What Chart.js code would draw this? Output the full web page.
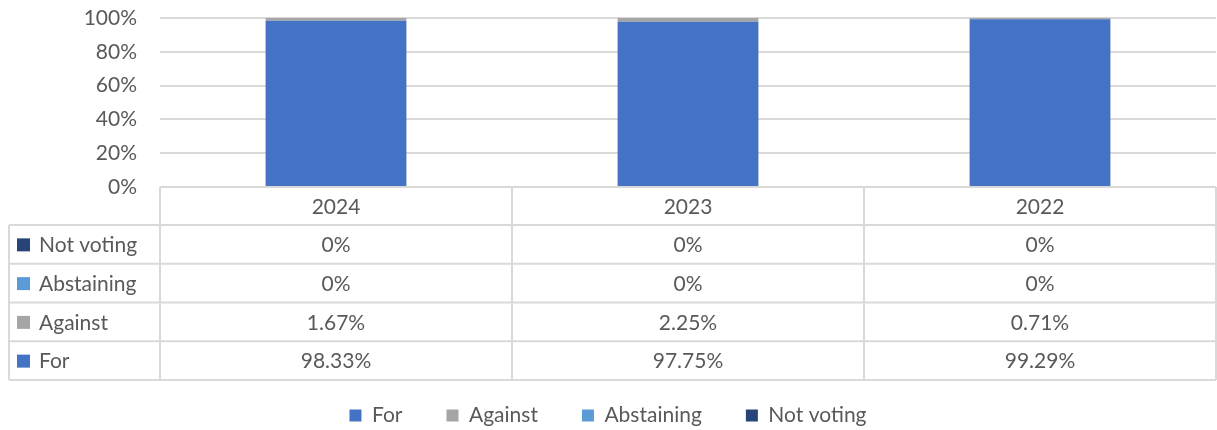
<!DOCTYPE html>
<html>
<head>
<meta charset="utf-8">
<script src="https://cdn.jsdelivr.net/npm/chart.js@4"></script>
<style>
  body { margin: 0; background: #fff; }
  #wrap { width: 1217px; height: 430px; position: relative; }
</style>
</head>
<body>
<div id="wrap"><canvas id="votesChart"></canvas></div>
<script>
// Chart data (percent of votes cast)
const years = ['2024', '2023', '2022'];
const forVotes = [98.33, 97.75, 99.29];
const againstVotes = [1.67, 2.25, 0.71];
const abstainVotes = [0, 0, 0];
const notVotingVotes = [0, 0, 0];
const yTicks = [0, 20, 40, 60, 80, 100];

const textColor = '#595959';
const lineColor = '#d9d9d9';
const fontFamily = 'Lato, "Open Sans", sans-serif';

const fmt = v => v === 0 ? '0%' : v.toFixed(2) + '%';

// Excel style data table under the plot, drawn from the chart's own scales
const dataTable = {
   id: 'dataTable',
   afterDraw(chart) {
      const ctx = chart.ctx;
      const x = chart.scales.x;
      const area = chart.chartArea;
      const half = (x.getPixelForValue(1) - x.getPixelForValue(0)) / 2;
      const headerH = 38;
      const rowH = 38.75;
      const tableLeft = 9;
      const rows = chart.data.datasets.slice().reverse();
      const bottom = area.bottom + headerH + rowH * rows.length;

      ctx.save();
      ctx.strokeStyle = lineColor;
      ctx.lineWidth = 2;

      // vertical lines
      ctx.beginPath();
      years.forEach((y, i) => {
         const left = x.getPixelForValue(i) - half;
         ctx.moveTo(left, area.bottom);
         ctx.lineTo(left, bottom);
      });
      ctx.moveTo(area.right, area.bottom);
      ctx.lineTo(area.right, bottom);
      ctx.moveTo(tableLeft, area.bottom + headerH);
      ctx.lineTo(tableLeft, bottom);
      // horizontal lines
      for (let r = 0; r <= rows.length; r++) {
         const yy = area.bottom + headerH + r * rowH;
         ctx.moveTo(tableLeft, yy);
         ctx.lineTo(area.right, yy);
      }
      ctx.stroke();

      ctx.fillStyle = textColor;
      ctx.font = '21px ' + fontFamily;
      ctx.textBaseline = 'middle';
      ctx.textAlign = 'center';
      years.forEach((y, i) => {
         ctx.fillText(y, x.getPixelForValue(i), area.bottom + headerH / 2 + 1);
      });

      rows.forEach((ds, r) => {
         const cy = area.bottom + headerH + r * rowH + rowH / 2 + 1;
         ctx.fillStyle = ds.backgroundColor;
         ctx.fillRect(17, cy - 7, 13, 13);
         ctx.fillStyle = textColor;
         ctx.textAlign = 'left';
         ctx.fillText(ds.label, 39, cy);
         ctx.textAlign = 'center';
         ds.data.forEach((v, i) => {
            ctx.fillText(fmt(v), x.getPixelForValue(i), cy);
         });
      });
      ctx.restore();
   }
};

const ctx = document.getElementById('votesChart').getContext('2d');
const votesChart = new Chart(ctx, {
   type: 'bar',
   data: {
      labels: years,
      datasets: [
         { label: 'For', data: forVotes, backgroundColor: '#4472c4' },
         { label: 'Against', data: againstVotes, backgroundColor: '#a5a5a5' },
         { label: 'Abstaining', data: abstainVotes, backgroundColor: '#5b9bd5' },
         { label: 'Not voting', data: notVotingVotes, backgroundColor: '#264478' }
      ]
   },
   options: {
      responsive: true,
      maintainAspectRatio: false,
      animation: false,
      datasets: {
         bar: { barPercentage: 0.4, categoryPercentage: 1, borderWidth: 0 }
      },
      layout: { padding: { top: 18, right: 1, left: 0, bottom: -6 } },
      scales: {
         x: {
            stacked: true,
            grid: { display: false },
            border: { display: false },
            ticks: { display: false },
            afterFit: scale => { scale.height = 174; }
         },
         y: {
            stacked: true,
            min: 0,
            max: 100,
            afterBuildTicks: scale => { scale.ticks = yTicks.map(v => ({ value: v })); },
            afterFit: scale => {
               scale.width = 160;
               scale.paddingTop = 0;
               scale.paddingBottom = 0;
            },
            border: { display: false },
            grid: { color: lineColor, lineWidth: 2, drawTicks: false },
            ticks: {
               padding: 23,
               autoSkip: false,
               color: textColor,
               font: { family: fontFamily, size: 21 },
               callback: v => v + '%'
            }
         }
      },
      plugins: {
         legend: {
            position: 'bottom',
            labels: {
               boxWidth: 12,
               boxHeight: 12,
               padding: 44,
               color: textColor,
               font: { family: fontFamily, size: 21 }
            }
         },
         tooltip: { enabled: false }
      }
   },
   plugins: [dataTable]
});
</script>
</body>
</html>
